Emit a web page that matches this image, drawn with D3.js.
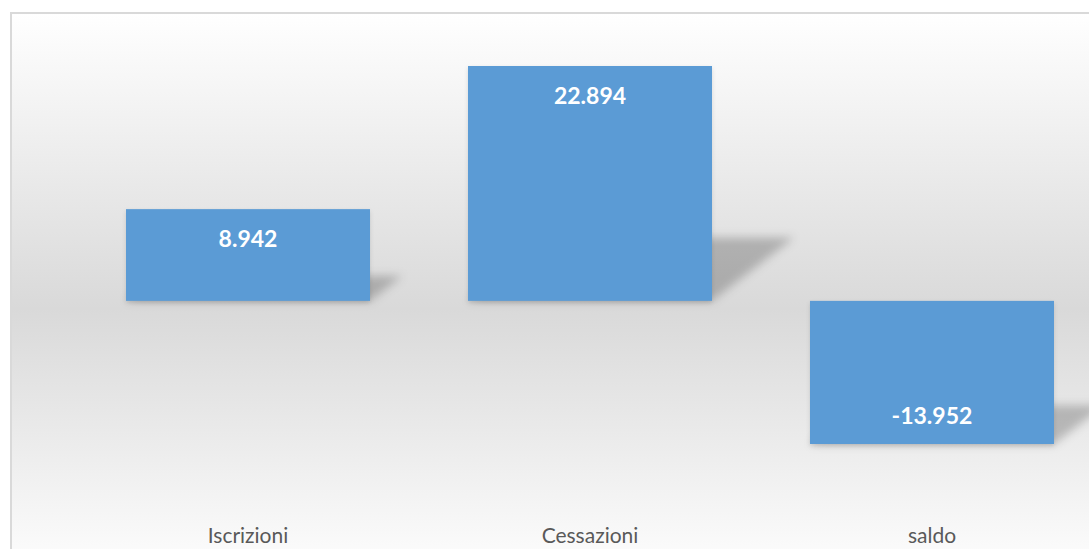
<!DOCTYPE html>
<html>
<head>
<meta charset="utf-8">
<script src="https://cdn.jsdelivr.net/npm/d3@7"></script>
<style>
  html, body { margin: 0; padding: 0; background: #ffffff; }
  svg { display: block; }
</style>
</head>
<body>
<div id="chart"></div>
<script>
// Movimento anagrafico: iscrizioni, cessazioni e saldo
const categories = ["Iscrizioni", "Cessazioni", "saldo"];
const values = [8942, 22894, -13952];
const valueLabels = ["8.942", "22.894", "-13.952"];

const W = 1089, H = 549;
const svg = d3.select("#chart").append("svg")
  .attr("width", W).attr("height", H);

const defs = svg.append("defs");

// Background gradient of the chart area
const bg = defs.append("linearGradient")
  .attr("id", "bgGrad").attr("x1", 0).attr("y1", 0).attr("x2", 0).attr("y2", 1);
bg.append("stop").attr("offset", "0%").attr("stop-color", "#ffffff");
bg.append("stop").attr("offset", "52%").attr("stop-color", "#d9d9d9");
bg.append("stop").attr("offset", "100%").attr("stop-color", "#ffffff");

const blur = defs.append("filter").attr("id", "shadowBlur")
  .attr("x", "-20%").attr("y", "-50%").attr("width", "140%").attr("height", "200%");
blur.append("feGaussianBlur").attr("stdDeviation", 5);

const under = defs.append("filter").attr("id", "underBlur")
  .attr("x", "-10%").attr("y", "-10%").attr("width", "120%").attr("height", "130%");
under.append("feGaussianBlur").attr("stdDeviation", 2);

// Chart frame
svg.append("rect")
  .attr("x", 11).attr("y", 13).attr("width", W + 20).attr("height", H + 20)
  .attr("fill", "url(#bgGrad)")
  .attr("stroke", "#d9d9d9").attr("stroke-width", 2);

// Scales
const x = d3.scaleBand()
  .domain(categories)
  .range([77, 1103])
  .paddingInner(0.2865)
  .paddingOuter(0.1433);

const y = d3.scaleLinear()
  .domain([-13952, 22894])
  .range([444, 66]);

const data = categories.map((c, i) => ({ cat: c, v: values[i], label: valueLabels[i] }));

// Perspective shadows cast behind each bar
const shadowG = svg.append("g").attr("filter", "url(#shadowBlur)");
shadowG.selectAll("path").data(data).join("path")
  .attr("d", d => {
    const x0 = x(d.cat), x1 = x0 + x.bandwidth();
    const yb = Math.max(y(d.v), y(0));
    const h = Math.abs(y(d.v) - y(0));
    const dy = h * 0.27, dx = h * 0.35;
    return `M${x0},${yb} L${x1},${yb} L${x1 + dx},${yb - dy} L${x0 + dx},${yb - dy} Z`;
  })
  .attr("fill", "#000").attr("fill-opacity", 0.22);

// Soft shadow under each bar
svg.append("g").attr("filter", "url(#underBlur)")
  .selectAll("rect").data(data).join("rect")
  .attr("x", d => x(d.cat))
  .attr("y", d => Math.min(y(d.v), y(0)) + 2)
  .attr("width", x.bandwidth())
  .attr("height", d => Math.abs(y(d.v) - y(0)))
  .attr("fill", "#000").attr("fill-opacity", 0.12);

// Bars
svg.append("g").selectAll("rect").data(data).join("rect")
  .attr("x", d => x(d.cat))
  .attr("y", d => Math.min(y(d.v), y(0)))
  .attr("width", x.bandwidth())
  .attr("height", d => Math.abs(y(d.v) - y(0)))
  .attr("fill", "#5b9bd5");

// Value labels inside the bar end
svg.append("g").selectAll("text").data(data).join("text")
  .attr("x", d => x(d.cat) + x.bandwidth() / 2)
  .attr("y", d => d.v >= 0 ? y(d.v) + 38 : y(d.v) - 20)
  .attr("text-anchor", "middle")
  .attr("font-family", "Lato, 'Open Sans', sans-serif")
  .attr("font-weight", "bold")
  .attr("font-size", 23)
  .attr("fill", "#ffffff")
  .text(d => d.label);

// Category axis labels
svg.append("g").selectAll("text").data(categories).join("text")
  .attr("x", d => x(d) + x.bandwidth() / 2)
  .attr("y", 543)
  .attr("text-anchor", "middle")
  .attr("font-family", "Lato, 'Open Sans', sans-serif")
  .attr("font-size", 21)
  .attr("fill", "#595959")
  .text(d => d);
</script>
</body>
</html>
